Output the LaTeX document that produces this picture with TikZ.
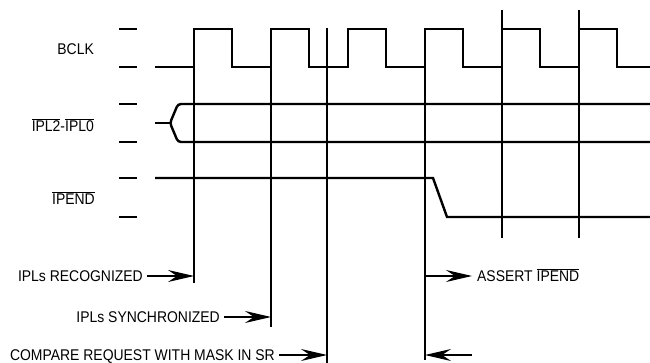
\documentclass[tikz,border=0pt]{standalone}
\usepackage{fontspec}
\setmainfont{Liberation Sans}
\usetikzlibrary{arrows.meta,positioning,calc}
\newcommand{\lowact}[1]{$\overline{\mbox{#1}}$}
\tikzset{
  sig/.style={line width=2.4pt,line join=miter},
  edge/.style={line width=1.4pt},
  tickmark/.style={line width=1.3pt},
  lbl/.style={inner sep=0pt,text height=11pt,text depth=0pt,xscale=0.9,font=\fontsize{15.5}{18}\selectfont},
  ptr/.style={line width=1.2pt,-{Stealth[length=26pt,width=12pt,inset=9pt]}},
}
\begin{document}
\begin{tikzpicture}[x=1pt,y=-1pt]
  \useasboundingbox (0,0) rectangle (650,363);
  % level ticks on the left
  \foreach \y in {29,67,104,142,178,217}
    \draw[tickmark] (119,\y) -- (137,\y);
  % the clock
  \draw[sig] (155,67) \foreach \r in {194,271,...,579} { -- (\r,67) -- (\r,29) -- (\r+38,29) -- (\r+38,67) } -- (650,67);
  % the interrupt bus, then the pending line
  \draw[sig] (155,123) -- (170,123);
  \draw[sig,rounded corners=3pt] (650,104) -- (178,104) -- (170,123) -- (178,142) -- (650,142);
  \draw[sig] (155,178) -- (433,178) -- (447,217) -- (650,217);
  % the time markers
  \foreach \x/\top/\bot [count=\i] in {194/29/283,271/29/327,327/28/363,425/29/360,502/10/238,579/10/238}
    \draw[edge] (\x,\top) coordinate (t\i) -- (\x,\bot);
  \node[lbl,anchor=east] (bclk) at (94,49) {BCLK};
  \node[lbl,anchor=east] (ipl) at (94,126) {\lowact{IPL2}-\lowact{IPL0}};
  \node[lbl,anchor=east] (ipend) at (95,199) {\lowact{IPEND}};
  \node[lbl,anchor=east] (recog) at (143,276) {IPLs RECOGNIZED};
  \node[lbl,anchor=east] (synch) at (220,317) {IPLs SYNCHRONIZED};
  \node[lbl,anchor=east] (compare) at (275,355) {COMPARE REQUEST WITH MASK IN SR};
  \node[lbl,anchor=west] (assert) at (477,276) {ASSERT \lowact{IPEND}};
  \draw[ptr] ([xshift=4pt]recog.east) -- (recog.east -| t1);
  \draw[ptr] ([xshift=4pt]synch.east) -- (synch.east -| t2);
  \draw[ptr] ([xshift=4pt]compare.east) -- (compare.east -| t3);
  \draw[ptr] (assert.west -| t4) -- ([xshift=-5pt]assert.west);
  \coordinate (back) at (472,355);
  \draw[ptr] (back) -- (back -| t4);
\end{tikzpicture}
\end{document}
